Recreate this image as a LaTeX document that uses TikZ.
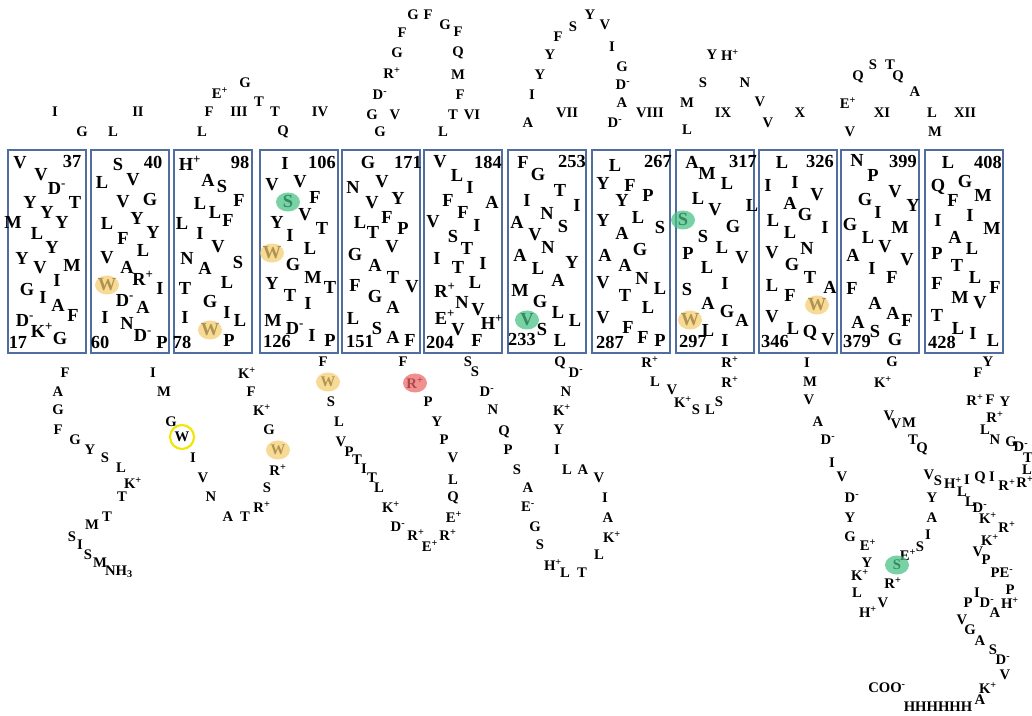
\documentclass[tikz,border=0pt]{standalone}
\usepackage{fontspec}
\setmainfont{Liberation Serif}
\usetikzlibrary{shapes.geometric}
\definecolor{boxc}{HTML}{4F6D9E}
\definecolor{hiy}{HTML}{F5CC6E}
\definecolor{hig}{HTML}{46C284}
\definecolor{hir}{HTML}{EE6565}
\definecolor{ring}{HTML}{F2E600}
\newcommand\chp{\textsuperscript{+}}
\newcommand\chm{\textsuperscript{-}}
\tikzset{
  tmbox/.style={draw=boxc, line width=1.4pt},
  bl/.style={font=\bfseries\fontsize{13.8}{14}\selectfont, inner sep=0pt},
  sl/.style={font=\bfseries\fontsize{11}{12}\selectfont, inner sep=0pt},
  hl/.style={fill opacity=0.72}
}
\begin{document}
\begin{tikzpicture}[x=0.75pt,y=-0.75pt]
\useasboundingbox (0,0) rectangle (1032,716);
\fill[white] (0,0) rectangle (1032,716);
% membrane boxes
\foreach \l [count=\i] in {8,91,174,260,342,424,508,592,676,759,841,925}
  \draw[tmbox] (\l,150) rectangle ++(78,203) node[coordinate] (tm\i) {};
% box letters
\foreach \x/\y/\t [count=\i] in {20/163/V, 41/175/V, 57/188/D\chm, 75/202/T, 30/202/Y, 47/212/Y, 13/222/M, 62/222/Y, 37/233/L, 52/247/Y, 22/258/Y, 40/268/V, 72/265/M, 57/280/I, 27/290/G, 43/297/I, 58/305/A, 73/315/F, 25/320/D\chm, 42/330/K\chp, 60/338/G, 72/162/37, 18/342/17,
118/165/S, 102/182/L, 133/180/V, 123/202/V, 150/200/G, 107/223/L, 137/218/Y, 153/232/Y, 123/238/F, 143/250/L, 107/258/V, 127/267/A, 143/278/R\chp, 160/288/I, 107/285/W, 125/300/D\chm, 143/307/A, 105/317/I, 127/323/N, 143/335/D\chm, 162/342/P, 153/162/40, 100/342/60,
190/163/H\chp, 208/180/A, 222/187/S, 239/200/F, 200/203/L, 215/212/L, 182/223/L, 228/220/F, 200/233/I, 218/247/V, 187/258/N, 238/263/S, 205/268/A, 227/282/L, 185/288/T, 210/302/G, 227/312/I, 240/320/L, 185/317/I, 210/330/W, 229/340/P, 240/162/98, 182/342/78,
285/163/I, 272/185/V, 300/182/V, 315/197/F, 288/202/S, 277/222/Y, 305/215/V, 322/228/T, 290/235/I, 272/253/W, 310/248/L, 293/265/G, 313/277/M, 330/287/T, 272/283/Y, 290/295/T, 308/303/I, 273/320/M, 295/328/D\chm, 312/335/I, 330/340/P, 322/162/106, 277/342/126,
368/163/G, 353/187/N, 382/182/V, 398/198/Y, 372/203/V, 360/222/L, 387/217/F, 403/228/P, 373/232/T, 392/247/V, 355/255/G, 375/265/A, 393/277/T, 412/287/V, 355/285/F, 375/297/G, 393/307/A, 353/318/L, 377/328/S, 393/337/A, 410/340/F, 408/162/171, 360/342/151,
440/162/V, 457/175/L, 470/187/I, 448/200/F, 492/202/A, 463/212/F, 433/222/V, 477/225/I, 453/237/S, 467/248/T, 437/258/I, 458/267/T, 483/263/I, 475/282/L, 445/290/R\chp, 462/302/N, 478/310/V, 492/322/H\chp, 445/317/E\chp, 458/330/V, 477/340/F, 488/162/184, 440/342/204,
523/162/F, 538/175/G, 560/190/T, 527/200/I, 577/205/I, 547/213/N, 517/222/A, 563/227/S, 535/235/V, 548/247/N, 520/255/A, 572/262/Y, 538/268/L, 558/280/A, 520/290/M, 540/302/G, 558/312/L, 575/320/L, 527/320/V, 542/330/S, 560/340/L, 572/162/253, 522/340/233,
615/165/L, 603/183/Y, 630/185/F, 622/200/Y, 648/195/P, 603/220/Y, 638/217/L, 660/228/S, 622/233/A, 640/250/G, 605/255/A, 625/265/A, 642/278/N, 660/288/L, 603/283/V, 625/295/T, 648/307/L, 603/318/V, 628/327/F, 643/337/F, 660/340/P, 658/162/267, 610/342/287,
692/162/A, 707/173/M, 727/183/L, 752/205/L, 698/198/L, 715/210/V, 683/220/S, 733/227/G, 703/237/S, 722/247/L, 688/253/P, 742/258/V, 707/267/L, 725/283/I, 687/290/S, 708/303/A, 727/312/G, 742/320/A, 690/320/W, 708/330/L, 725/340/I, 743/162/317, 693/342/297,
782/162/L, 768/185/I, 795/182/I, 817/195/V, 790/203/A, 805/215/G, 773/220/L, 825/227/I, 790/232/L, 807/248/N, 772/253/V, 792/265/G, 810/277/T, 830/287/A, 772/285/L, 790/295/F, 817/305/W, 772/317/V, 793/328/L, 810/333/Q, 828/340/V, 820/162/326, 775/342/346,
857/160/N, 873/175/P, 895/192/V, 913/205/Y, 865/200/G, 878/212/I, 850/225/G, 900/227/M, 868/237/L, 885/247/V, 907/260/V, 853/255/A, 872/268/I, 892/277/F, 852/288/F, 875/303/A, 893/313/A, 907/320/F, 858/322/A, 875/332/S, 895/340/G, 903/162/399, 857/342/379,
948/162/L, 938/187/Q, 965/182/G, 953/200/F, 983/195/M, 970/215/I, 938/220/I, 992/228/M, 955/237/A, 972/248/L, 937/253/P, 957/265/T, 975/277/L, 995/287/F, 937/283/F, 960/297/M, 980/303/V, 937/315/T, 958/328/L, 973/333/I, 993/340/L, 988/162/408, 942/342/428}
  \node[bl] (b\i) at (\x,\y) {\t};
% extracellular loops
\foreach \x/\y/\t [count=\i] in {55/112/I, 82/132/G, 113/132/L, 138/112/II, 202/132/L, 209/112/F, 220/93/E\chp, 245/83/G, 239/112/III, 259/102/T, 275/112/T, 283/132/Q, 320/112/IV,
413/15/G, 428/15/F, 445/25/G, 458/32/F, 402/33/F, 397/53/G, 458/53/Q, 392/73/R\chp, 458/75/M, 380/95/D\chm, 460/95/F, 372/115/G, 395/115/V, 453/115/T, 472/115/VI, 380/132/G, 443/132/L,
590/15/Y, 573/27/S, 605/25/V, 558/37/F, 612/47/I, 550/55/Y, 622/67/G, 540/75/Y, 623/85/D\chm, 532/95/I, 622/103/A, 567/113/VII, 650/113/VIII, 528/123/A, 615/123/D\chm, 687/103/M, 687/130/L,
712/55/Y, 730/55/H\chp, 703/83/S, 745/83/N, 723/113/IX, 760/102/V, 768/123/V, 800/113/X, 858/77/Q, 873/65/S, 890/65/T, 898/77/Q, 915/92/A, 848/103/E\chp, 882/113/XI, 932/113/L, 965/113/XII, 850/132/V, 935/132/M}
  \node[sl] (t\i) at (\x,\y) {\t};
% cytoplasmic loops and termini
\foreach \x/\y/\t [count=\i] in {65/373/F, 58/392/A, 58/410/G, 58/430/F, 75/440/G, 90/450/Y, 105/458/S, 121/468/L, 133/483/K\chp, 122/497/T, 107/517/T, 92/525/M, 72/537/S, 80/545/I, 88/555/S, 100/563/M, 119/572/NH\textsubscript{3},
153/373/I, 164/392/M, 171/422/G, 182/437/W, 193/458/I, 203/478/V, 211/497/N, 228/517/A, 245/517/T, 262/507/R\chp, 267/488/S, 278/470/R\chp, 278/450/W, 269/430/G, 262/410/K\chp, 251/392/F, 247/373/K\chp,
323/362/F, 328/382/W, 331/402/S, 339/422/L, 341/442/V, 349/452/P, 357/460/T, 364/469/I, 372/478/T, 379/488/L, 391/507/K\chp, 398/527/D\chm, 416/535/R\chp, 430/546/E\chp, 448/535/R\chp, 454/517/E\chp, 453/498/Q, 453/480/L, 453/458/V, 444/440/P, 437/422/Y, 428/402/P, 415/383/R\chp, 403/362/F,
468/362/S, 475/372/S, 487/392/D\chm, 493/410/N, 504/432/Q, 508/450/P, 517/470/S, 528/488/A, 528/507/E\chm, 535/527/G, 540/545/S, 553/565/H\chp, 565/573/L, 582/573/T, 599/555/L, 612/537/K\chp, 608/518/A, 605/498/I, 599/478/V, 583/470/A, 567/470/L, 557/450/I, 559/430/Y, 562/410/K\chp, 566/392/N, 576/373/D\chm, 560/363/Q,
650/362/R\chp, 655/382/L, 672/390/V, 683/402/K\chp, 696/410/S, 710/410/L, 719/402/S, 730/382/R\chp, 730/362/R\chp,
807/363/I, 810/382/M, 809/400/V, 818/422/A, 828/440/D\chm, 832/463/I, 842/477/V, 852/498/D\chm, 850/518/Y, 850/537/G, 868/545/E\chp, 867/563/Y, 860/575/K\chp, 857/593/L, 868/612/H\chp, 883/603/V, 893/583/R\chp, 897/565/S, 908/555/E\chp, 920/547/S, 928/535/I, 932/518/A, 932/498/Y, 938/481/S, 929/475/V, 922/449/Q, 913/440/T, 909/423/M, 896/424/V, 889/416/V, 883/382/K\chp, 892/362/G,
988/362/Y, 978/373/F, 975/400/R\chp, 990/400/F, 1005/402/Y, 995/417/R\chp, 985/430/L, 995/440/N, 1011/442/G, 1021/447/D\chm, 1028/458/T, 1027/470/L, 1025/482/R\chp, 1007/485/R\chp, 992/477/I, 980/478/Q, 967/480/I, 953/483/H\chp, 962/492/L, 970/502/L, 980/508/D\chm, 988/518/K\chp, 1007/527/R\chp, 990/540/K\chp, 978/552/V, 986/560/P, 1002/573/PE\chm,
977/593/I, 1010/590/P, 968/603/P, 987/603/D\chm, 1010/603/H\chp, 995/613/A, 962/620/V, 970/630/G, 980/641/A, 993/650/S, 1003/660/D\chm, 1005/675/V, 988/688/K\chp, 980/700/A, 938/707/HHHHHH, 887/688/COO\chm}
  \node[sl] (c\i) at (\x,\y) {\t};
% highlights
\foreach \x/\y [count=\i] in {107/285, 210/330, 272/253, 690/320, 817/305, 278/450, 328/382}
  \fill[hiy,hl] (\x,\y) ellipse [x radius=12, y radius=9.5];
\foreach \x/\y [count=\i] in {288/202, 527/320, 683/220, 897/565}
  \fill[hig,hl] (\x,\y) ellipse [x radius=12, y radius=9.5];
\fill[hir,hl] (415,383) ellipse [x radius=12, y radius=9.5];
\draw[ring, line width=1.6pt] (182,437) circle [radius=12];
\end{tikzpicture}
\end{document}
